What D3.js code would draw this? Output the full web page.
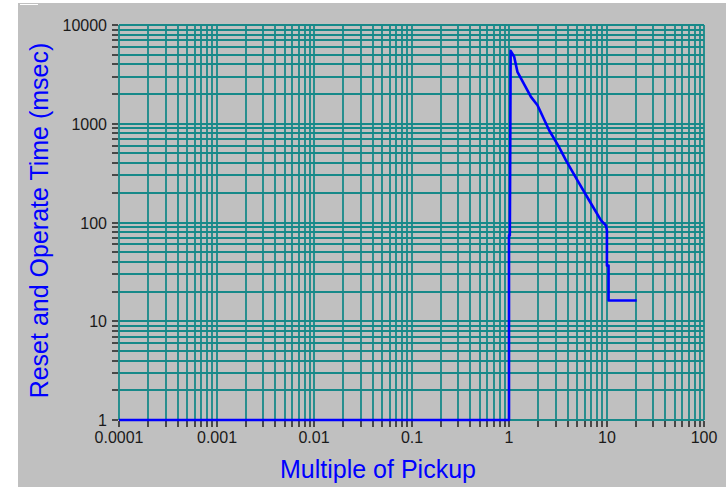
<!DOCTYPE html>
<html>
<head>
<meta charset="utf-8">
<script src="https://cdn.jsdelivr.net/npm/d3@7"></script>
<style>
  body { margin: 0; background: #ffffff; }
  svg { display: block; }
</style>
</head>
<body>
<div id="chart"></div>
<script>
// Reset / operate time curve, log-log

// Multiple of pickup (x) and time in msec (y)
const pickup = [0.0001, 1, 1, 1.02, 1.04, 1.13, 1.22, 1.45, 1.68, 1.96, 2.58, 3.2, 3.84, 5.0, 6.65, 8.78, 9.88, 10.1, 10.1, 10.5, 10.5, 20.4];
const timeMs = [1, 1, 74, 74, 5480, 4770, 3357, 2450, 1871, 1541, 859, 600, 426, 270, 167, 105, 93, 83, 36.6, 36.6, 16.2, 16.2];

const xTicks = [0.0001, 0.001, 0.01, 0.1, 1, 10, 100];
const yTicks = [1, 10, 100, 1000, 10000];
const xTickLabels = ["0.0001", "0.001", "0.01", "0.1", "1", "10", "100"];
const yTickLabels = ["1", "10", "100", "1000", "10000"];

const width = 726;
const height = 487;
const margin = { top: 25, right: 22, bottom: 67, left: 119 };
const gridColor = "#178989";

const svg = d3.select("#chart")
    .append("svg")
    .attr("width", width)
    .attr("height", height);

// gray panel
svg.append("rect")
    .attr("x", 18).attr("y", 3)
    .attr("width", width - 18).attr("height", height - 3)
    .attr("fill", "#c0c0c0");
svg.append("line")
    .attr("x1", 20).attr("x2", 38).attr("y1", 4.5).attr("y2", 4.5)
    .attr("stroke", "#ffffff").attr("stroke-width", 1);

const x = d3.scaleLog()
    .domain([0.0001, 100])
    .range([margin.left, width - margin.right]);

const y = d3.scaleLog()
    .domain([1, 10000])
    .range([height - margin.bottom, margin.top]);

// every 1..9 step of each decade
function minorValues(lo, hi) {
    let vals = [];
    for (let e = Math.log10(lo); e < Math.log10(hi); e++) {
        for (let m = 1; m < 10; m++) vals.push(m * Math.pow(10, e));
    }
    vals.push(hi);
    return vals;
}
const xAll = minorValues(0.0001, 100);
const yAll = minorValues(1, 10000);

// grid
const grid = svg.append("g")
    .attr("stroke", gridColor)
    .attr("stroke-width", 1.8);

grid.selectAll(".vx")
    .data(xAll)
    .enter()
    .append("line")
    .attr("x1", d => Math.round(x(d)))
    .attr("x2", d => Math.round(x(d)))
    .attr("y1", y(10000))
    .attr("y2", y(1));

grid.selectAll(".hy")
    .data(yAll)
    .enter()
    .append("line")
    .attr("y1", d => Math.round(y(d)))
    .attr("y2", d => Math.round(y(d)))
    .attr("x1", x(0.0001))
    .attr("x2", x(100));

// axes
const xAxis = d3.axisBottom(x)
    .tickValues(xAll)
    .tickSize(6)
    .tickPadding(5)
    .tickFormat(d => {
        const i = xTicks.findIndex(t => Math.abs(t - d) / t < 1e-6);
        return i >= 0 ? xTickLabels[i] : "";
    });

const yAxis = d3.axisLeft(y)
    .tickValues(yAll)
    .tickSize(6)
    .tickPadding(5)
    .tickFormat(d => {
        const i = yTicks.findIndex(t => Math.abs(t - d) / t < 1e-6);
        return i >= 0 ? yTickLabels[i] : "";
    });

const gx = svg.append("g")
    .attr("transform", `translate(0, ${Math.round(y(1)) + 1})`)
    .call(xAxis);
const gy = svg.append("g")
    .attr("transform", `translate(${Math.round(x(0.0001)) - 1}, 0)`)
    .call(yAxis);

[gx, gy].forEach(g => {
    g.select(".domain").remove();
    g.selectAll(".tick line")
        .attr("stroke", "#2a2a2a")
        .attr("stroke-width", 1.6);
    g.selectAll(".tick text")
        .style("font-family", "Liberation Sans, Arial, sans-serif")
        .style("font-size", "16px")
        .attr("fill", "#1a1a1a");
});
gx.selectAll(".tick").attr("transform", d => `translate(${Math.round(x(d))},0)`);
gy.selectAll(".tick").attr("transform", d => `translate(0,${Math.round(y(d))})`);
gy.selectAll(".tick text").attr("dy", "0.36em");

// curve
const line = d3.line()
    .x(d => x(d[0]))
    .y(d => y(d[1]));

svg.append("path")
    .datum(pickup.map((p, i) => [p, timeMs[i]]))
    .attr("d", line)
    .attr("fill", "none")
    .attr("stroke", "#0000ff")
    .attr("stroke-width", 2.6)
    .attr("stroke-linejoin", "round");

// titles
svg.append("text")
    .attr("x", 378)
    .attr("y", 478)
    .attr("text-anchor", "middle")
    .style("font-family", "Liberation Sans, Arial, sans-serif")
    .style("font-size", "25px")
    .attr("fill", "#0000ff")
    .text("Multiple of Pickup");

svg.append("text")
    .attr("transform", `translate(48, ${(y(1) + y(10000)) / 2 - 2}) rotate(-90)`)
    .attr("text-anchor", "middle")
    .style("font-family", "Liberation Sans, Arial, sans-serif")
    .style("font-size", "25px")
    .attr("fill", "#0000ff")
    .text("Reset and Operate Time (msec)");
</script>
</body>
</html>
